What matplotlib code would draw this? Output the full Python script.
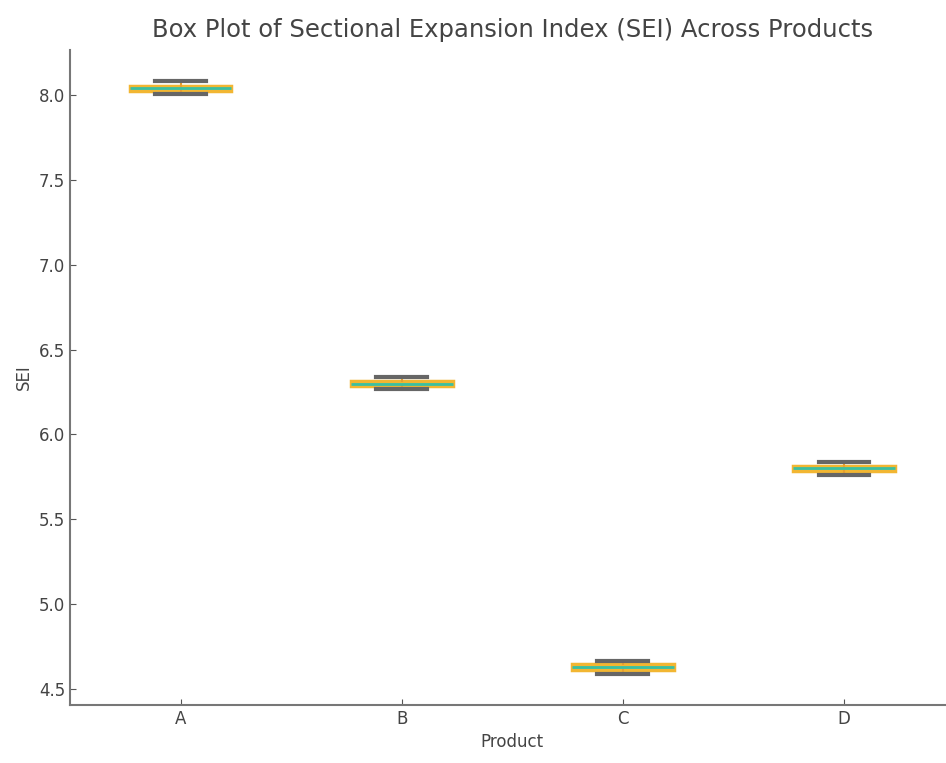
import matplotlib.pyplot as plt
import numpy as np

# Data (SEI per product)
products = ['A', 'B', 'C', 'D']
medians = [8.04, 6.30, 4.63, 5.80]
q1 = [8.025, 6.285, 4.615, 5.785]
q3 = [8.055, 6.315, 4.645, 5.815]
whis_lo = [8.005, 6.265, 4.59, 5.76]
whis_hi = [8.08, 6.34, 4.665, 5.835]

stats = []
for i in range(len(products)):
    stats.append({'label': products[i], 'med': medians[i], 'q1': q1[i], 'q3': q3[i],
                  'whislo': whis_lo[i], 'whishi': whis_hi[i], 'fliers': []})

fig = plt.figure(figsize=(9.46, 7.63), dpi=100)
ax = fig.add_axes([0.074, 0.076, 0.935, 0.8585])

ax.bxp(stats, positions=[1, 2, 3, 4], widths=0.46, patch_artist=True, showfliers=False,
       boxprops=dict(facecolor='#8fd18f', edgecolor='#f2b632', linewidth=2.5),
       medianprops=dict(color='#3cbfa0', linewidth=2),
       whiskerprops=dict(color='#e8a030', linewidth=1.5),
       capprops=dict(color='#666666', linewidth=3))

ax.set_xlim(0.5, 4.5)
ax.set_ylim(4.406, 8.265)
ax.set_yticks([4.5, 5.0, 5.5, 6.0, 6.5, 7.0, 7.5, 8.0])

ax.spines['top'].set_visible(False)
ax.spines['right'].set_visible(False)
for s in ['left', 'bottom']:
    ax.spines[s].set_color('#777777')
    ax.spines[s].set_linewidth(1.5)
ax.tick_params(direction='in', length=4, color='#555555', labelsize=12, labelcolor='#444444')

ax.set_title('Box Plot of Sectional Expansion Index (SEI) Across Products', fontsize=17.5,
             color='#444444', pad=9)
ax.set_xlabel('Product', fontsize=12, color='#444444')
ax.set_ylabel('SEI', fontsize=12, color='#444444')

fig.savefig('out.png', dpi=100)
